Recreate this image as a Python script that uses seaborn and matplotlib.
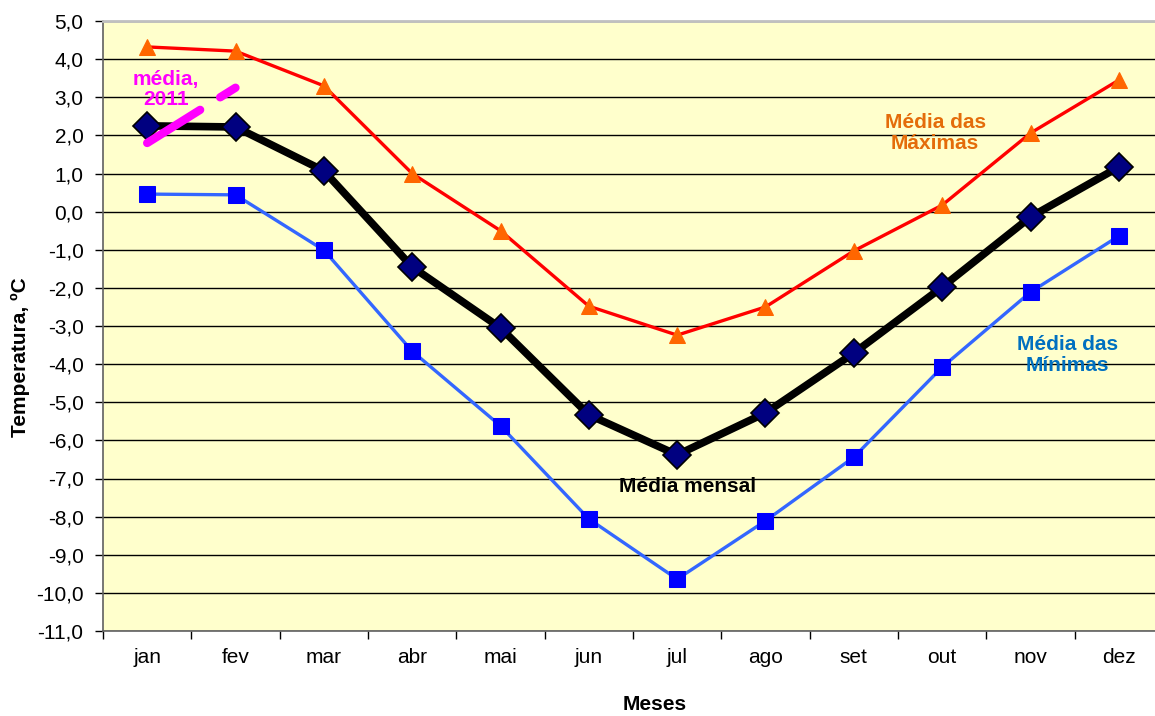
import matplotlib
matplotlib.use("Agg")
import matplotlib.pyplot as plt
import seaborn as sns
import pandas as pd
import numpy as np
from matplotlib.ticker import FixedLocator, FuncFormatter

meses = ["jan", "fev", "mar", "abr", "mai", "jun", "jul", "ago", "set", "out", "nov", "dez"]
media_maximas = [4.32, 4.21, 3.30, 1.00, -0.50, -2.48, -3.24, -2.50, -1.03, 0.17, 2.06, 3.45]
media_mensal = [2.25, 2.22, 1.07, -1.45, -3.05, -5.33, -6.38, -5.28, -3.71, -1.98, -0.14, 1.17]
media_minimas = [0.46, 0.44, -1.01, -3.66, -5.62, -8.06, -9.64, -8.11, -6.44, -4.08, -2.11, -0.64]
meses_2011 = ["jan", "fev"]
media_2011 = [1.80, 3.25]
y_ticks = list(range(-11, 6))

sns.set_theme(style="white")
plt.rcParams['font.family'] = ['Liberation Sans', 'DejaVu Sans']
plt.rcParams['lines.scale_dashes'] = False
plt.rcParams['text.color'] = 'black'
plt.rcParams['axes.labelcolor'] = 'black'
plt.rcParams['xtick.color'] = 'black'
plt.rcParams['ytick.color'] = 'black'

FS = 15

fig = plt.figure(figsize=(11.55, 7.16), dpi=100)
ax = fig.add_axes([103/1155, 85/716, 1060/1155, 610/716])
ax.set_facecolor("#FFFFCC")

idx = {m: i for i, m in enumerate(meses)}
df = pd.DataFrame({"x": range(len(meses)), "max": media_maximas,
                   "med": media_mensal, "min": media_minimas})
df11 = pd.DataFrame({"x": [idx[m] for m in meses_2011], "v": media_2011})

for y in y_ticks:
    ax.axhline(y, color="#000000", lw=1.0, zorder=1)

sns.lineplot(data=df, x="x", y="min", ax=ax, color="#3366FF", lw=2.4,
             marker="s", markersize=11, markerfacecolor="#0000FF",
             markeredgecolor="#0000FF", zorder=3)
sns.lineplot(data=df, x="x", y="max", ax=ax, color="#FF0000", lw=2.4,
             marker="^", markersize=11, markerfacecolor="#FF6600",
             markeredgecolor="#FF6600", zorder=3)
sns.lineplot(data=df, x="x", y="med", ax=ax, color="#000000", lw=5.5,
             marker="D", markersize=14, markerfacecolor="#000080",
             markeredgecolor="#000000", markeredgewidth=1.2, zorder=4)
sns.lineplot(data=df11, x="x", y="v", ax=ax, color="#FF00FF", lw=6,
             linestyle=(0, (45, 17)), zorder=5)
ax.lines[-1].set_dash_capstyle("round")

ax.set_xlim(-0.5, 11.5)
ax.set_ylim(-11, 5)
ax.set_xticks(range(len(meses)))
ax.set_xticklabels(meses, fontsize=FS)
ax.xaxis.set_minor_locator(FixedLocator(np.arange(-0.5, 12, 1)))
ax.tick_params(axis="x", which="major", length=0, pad=12)
ax.tick_params(axis="x", which="minor", length=6, width=1, color="#000000", direction="out", bottom=True)
ax.set_yticks(y_ticks)
ax.yaxis.set_major_formatter(FuncFormatter(lambda v, p: f"{v:.1f}".replace(".", ",")))
ax.tick_params(axis="y", which="major", length=6, width=1, color="#000000", direction="out", left=True, labelsize=FS, pad=8)

for s in ["left", "bottom"]:
    ax.spines[s].set_color("#606060")
    ax.spines[s].set_linewidth(1.2)
ax.spines["top"].set_color("#C0C0C0")
ax.spines["top"].set_linewidth(2)
ax.spines["right"].set_visible(False)

ax.set_xlabel("Meses", fontsize=FS, fontweight="bold")
ax.set_ylabel("Temperatura, ºC", fontsize=FS, fontweight="bold")
ax.xaxis.set_label_coords(0.52, -0.121)
ax.yaxis.set_label_coords(-0.078, 0.449)
ax.xaxis.label.set_va("center")
ax.yaxis.label.set_va("center")

ax.text(0.215, 3.2, "média,\n2011", color="#FF00FF", fontsize=FS, fontweight="bold",
        ha="center", va="center", linespacing=1.1, zorder=6)
ax.text(8.92, 2.06, "Média das\nMáximas", color="#E46C0A", fontsize=FS, fontweight="bold",
        ha="center", va="center", linespacing=1.15)
ax.text(10.42, -3.76, "Média das\nMínimas", color="#0070C0", fontsize=FS, fontweight="bold",
        ha="center", va="center", linespacing=1.1)
ax.text(6.12, -7.2, "Média mensal", color="#000000", fontsize=FS, fontweight="bold",
        ha="center", va="center")

fig.savefig("out.png", dpi=100)
